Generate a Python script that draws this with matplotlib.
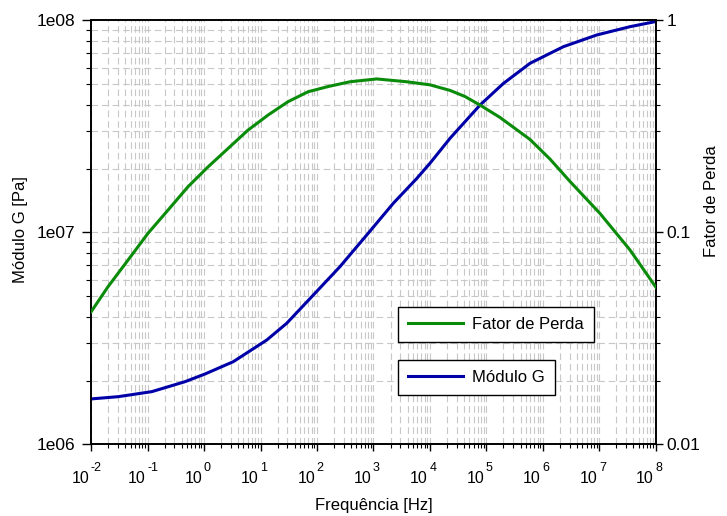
import matplotlib
matplotlib.use("Agg")
import matplotlib.pyplot as plt
import matplotlib.transforms as mtransforms
from matplotlib.ticker import FixedLocator, FixedFormatter, LogLocator, NullFormatter
from matplotlib.lines import Line2D

plt.rcParams["font.family"] = ["Liberation Sans", "DejaVu Sans"]

# Loss factor vs frequency [Hz]
freq_eta = [1.00e-2, 2.00e-2, 4.52e-2, 1.02e-1, 2.31e-1, 5.21e-1, 1.18e0, 2.66e0,
            6.01e0, 1.36e1, 3.07e1, 6.93e1, 1.57e2, 3.84e2, 1.14e3, 3.87e3,
            1.00e4, 2.26e4, 4.16e4, 7.67e4, 1.73e5, 5.89e5, 1.33e6, 3.01e6,
            1.02e7, 3.47e7, 1.00e8]
fator_perda = [0.0422, 0.0555, 0.0741, 0.0991, 0.1276, 0.1644, 0.204, 0.249,
               0.304, 0.358, 0.414, 0.461, 0.488, 0.514, 0.530, 0.514,
               0.497, 0.468, 0.438, 0.399, 0.349, 0.2747, 0.222, 0.174,
               0.123, 0.0827, 0.0551]

# Shear modulus magnitude [Pa] vs frequency [Hz]
freq_g = [1.00e-2, 3.04e-2, 1.19e-1, 4.61e-1, 1.04e0, 3.30e0, 1.29e1, 2.91e1,
          8.61e1, 2.55e2, 7.59e2, 2.24e3, 5.82e3, 1.00e4, 2.26e4, 7.67e4,
          1.98e5, 5.89e5, 2.29e6, 8.91e6, 3.47e7, 1.00e8]
modulo_g = [1.640e6, 1.681e6, 1.775e6, 1.978e6, 2.150e6, 2.458e6, 3.11e6, 3.73e6,
            5.07e6, 6.90e6, 9.73e6, 1.373e7, 1.797e7, 2.121e7, 2.780e7, 3.99e7,
            5.04e7, 6.28e7, 7.52e7, 8.54e7, 9.35e7, 9.89e7]

x_exps = [-2, -1, 0, 1, 2, 3, 4, 5, 6, 7, 8]
g_ticks = [1e6, 1e7, 1e8]
g_labels = ["1e06", "1e07", "1e08"]
eta_ticks = [0.01, 0.1, 1]
eta_labels = ["0.01", "0.1", "1"]

green = "#0a8c0a"
blue = "#0000a8"
grid_kw = dict(color="#c8c8c8", linestyle=(0, (6, 3.5)), linewidth=0.8)

fig = plt.figure(figsize=(7.27, 5.16), dpi=100)
ax = fig.add_axes([0.1252, 0.1386, 0.7771, 0.8217])
ax2 = ax.twinx()

ax.set_xscale("log")
ax.set_yscale("log")
ax2.set_yscale("log")
ax.set_xlim(1e-2, 1e8)
ax.set_ylim(1e6, 1e8)
ax2.set_ylim(0.01, 1)

ax.plot(freq_g, modulo_g, color=blue, lw=2.2, zorder=3, solid_joinstyle="round")
ax2.plot(freq_eta, fator_perda, color=green, lw=2.2, zorder=3, solid_joinstyle="round")

# x ticks at each decade; labels written below as "10" plus raised exponent
ax.xaxis.set_major_locator(FixedLocator([10.0 ** k for k in x_exps]))
ax.xaxis.set_minor_locator(LogLocator(base=10, subs=range(2, 10), numticks=20))
ax.xaxis.set_major_formatter(NullFormatter())
ax.xaxis.set_minor_formatter(NullFormatter())

xtrans = ax.get_xaxis_transform()
base_shift = mtransforms.ScaledTranslation(-2 / 100, 0, fig.dpi_scale_trans)
exp_shift = mtransforms.ScaledTranslation(-0.5 / 100, 0, fig.dpi_scale_trans)
for k in x_exps:
    ax.text(10.0 ** k, -0.0908, "10", transform=xtrans + base_shift,
            ha="right", va="baseline", fontsize=11.5)
    ax.text(10.0 ** k, -0.0635, str(k), transform=xtrans + exp_shift,
            ha="left", va="baseline", fontsize=9)

ax.yaxis.set_major_locator(FixedLocator(g_ticks))
ax.yaxis.set_major_formatter(FixedFormatter(g_labels))
ax.yaxis.set_minor_locator(LogLocator(base=10, subs=range(2, 10), numticks=10))
ax.yaxis.set_minor_formatter(NullFormatter())

ax2.yaxis.set_major_locator(FixedLocator(eta_ticks))
ax2.yaxis.set_major_formatter(FixedFormatter(eta_labels))
ax2.yaxis.set_minor_locator(LogLocator(base=10, subs=range(2, 10), numticks=10))
ax2.yaxis.set_minor_formatter(NullFormatter())

ax.grid(True, which="both", axis="both", **grid_kw)
ax.set_axisbelow(True)

ax.tick_params(axis="x", which="major", direction="out", length=4.8, width=1.0, top=False)
ax.tick_params(axis="x", which="minor", direction="out", length=3.1, width=0.8, top=False)
ax.tick_params(axis="y", which="major", direction="out", length=6.5, width=1.0,
               labelsize=12.5, pad=5)
ax.tick_params(axis="y", which="minor", direction="out", length=3.6, width=0.8)
ax2.tick_params(axis="y", which="major", direction="out", length=5, width=1.0,
                labelsize=12.5, pad=2.5)
ax2.tick_params(axis="y", which="minor", direction="out", length=3, width=0.8)

for a in (ax, ax2):
    for s in a.spines.values():
        s.set_linewidth(1.2)

ax.set_xlabel("Frequência [Hz]", fontsize=12, va="center")
ax.xaxis.set_label_coords(0.5, -0.145)
ax.set_ylabel("Módulo G [Pa]", fontsize=12, va="center")
ax.yaxis.set_label_coords(-0.124, 0.506)
ax2.set_ylabel("Fator de Perda", fontsize=12, va="center", rotation=90)
ax2.yaxis.set_label_coords(1.099, 0.575)

# two separate legend boxes
leg_kw = dict(loc="upper left", borderaxespad=0, fancybox=False, framealpha=1,
              edgecolor="black", fontsize=12, handlelength=3.3, handletextpad=0.55,
              borderpad=0.6)
leg1 = ax2.legend([Line2D([], [], color=green, lw=2.2)], ["Fator de Perda"],
                  bbox_to_anchor=(0.543, 0.325), **leg_kw)
leg1.get_frame().set_linewidth(1.0)
ax2.add_artist(leg1)
leg2 = ax2.legend([Line2D([], [], color=blue, lw=2.2)], ["Módulo G"],
                  bbox_to_anchor=(0.543, 0.199), **leg_kw)
leg2.get_frame().set_linewidth(1.0)

fig.savefig("out.png", dpi=100)
